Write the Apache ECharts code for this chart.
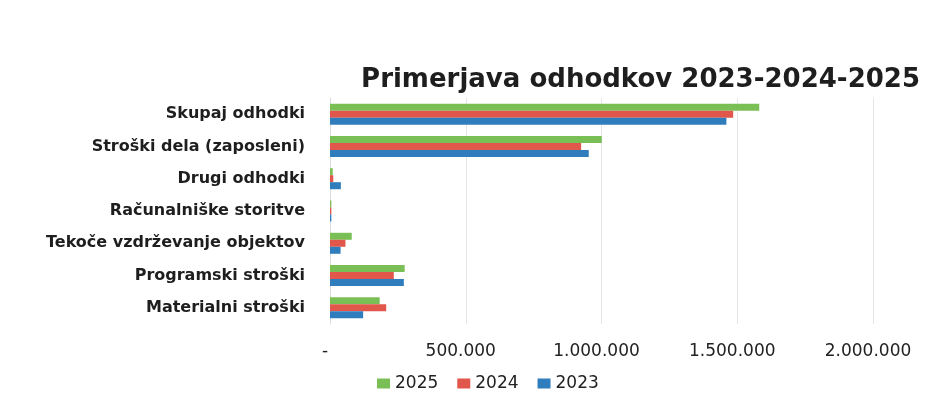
<!DOCTYPE html>
<html>
<head>
<meta charset="utf-8">
<script src="https://cdn.jsdelivr.net/npm/echarts@6/dist/echarts.min.js"></script>
<style>
  html, body { margin: 0; padding: 0; background: #fff; }
  #chart { width: 944px; height: 404px; }
</style>
</head>
<body>
<div id="chart"></div>
<script>
// Expense categories, listed bottom to top as they appear on the axis
const categories = [
  'Materialni stroški',
  'Programski stroški',
  'Tekoče vzdrževanje objektov',
  'Računalniške storitve',
  'Drugi odhodki',
  'Stroški dela (zaposleni)',
  'Skupaj odhodki'
];

// Expenses per year (EUR), same order as categories
const values2023 = [122000, 272000, 39000, 5000, 40000, 953000, 1460000];
const values2024 = [207000, 235000, 57000, 5000, 12000, 925000, 1485000];
const values2025 = [183000, 275000, 80000, 5000, 10000, 1001000, 1581000];

const legendYears = ['2025', '2024', '2023'];

function fmt(v) {
  if (v === 0) return '-';
  return String(v).replace(/\B(?=(\d{3})+(?!\d))/g, '.');
}

const chart = echarts.init(document.getElementById('chart'));
const font = 'DejaVu Sans';

chart.setOption({
  backgroundColor: '#ffffff',
  animation: false,
  title: {
    text: 'Primerjava odhodkov 2023-2024-2025',
    right: 19,
    top: 62,
    textStyle: { fontFamily: font, fontWeight: 'bold', fontSize: 26, color: '#1e1e1e' }
  },
  legend: {
    data: legendYears,
    left: 372,
    top: 370,
    itemWidth: 13,
    itemHeight: 10,
    itemGap: 19,
    icon: 'rect',
    textStyle: { fontFamily: font, fontSize: 17, color: '#222' }
  },
  grid: { left: 330, right: 71, top: 98, bottom: 80 },
  xAxis: {
    type: 'value',
    min: 0,
    max: 2000000,
    interval: 500000,
    axisLine: { show: false },
    axisTick: { show: false },
    axisLabel: {
      fontFamily: font, fontSize: 17, color: '#222', margin: 19,
      padding: [0, 10, 0, 0],
      formatter: fmt
    },
    splitLine: { lineStyle: { color: '#e6e6e6' } }
  },
  yAxis: {
    type: 'category',
    data: categories,
    axisLine: { show: true, lineStyle: { color: '#dcdcdc' } },
    axisTick: { show: false },
    axisLabel: {
      fontFamily: font, fontSize: 16, fontWeight: 'bold', color: '#1e1e1e', margin: 25
    }
  },
  series: [
    { name: '2025', type: 'bar', data: values2025, barWidth: 7, barGap: '0%',
      itemStyle: { color: '#7abf55' } },
    { name: '2024', type: 'bar', data: values2024, barWidth: 7, barGap: '0%',
      itemStyle: { color: '#e2574c' } },
    { name: '2023', type: 'bar', data: values2023, barWidth: 7, barGap: '0%',
      itemStyle: { color: '#2f7dbd' } }
  ]
});
</script>
</body>
</html>
